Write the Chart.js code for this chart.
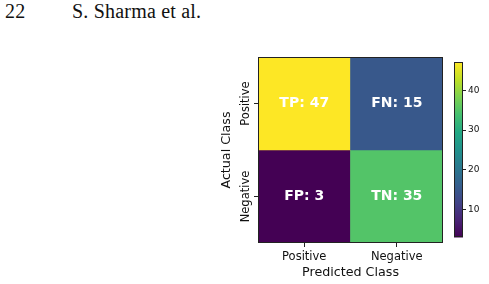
<!DOCTYPE html>
<html>
<head>
<meta charset="utf-8">
<script src="https://cdn.jsdelivr.net/npm/chart.js@4.4.1/dist/chart.umd.min.js"></script>
<style>
html, body { margin: 0; padding: 0; background: #fff; width: 489px; height: 284px; overflow: hidden; }
.hdr { position: absolute; top: 1px; font-family: "Liberation Serif", "DejaVu Serif", serif; font-size: 20px; line-height: 1; color: #111; white-space: nowrap; letter-spacing: 0.2px; }
#main { position: absolute; left: 215px; top: 50px; width: 235px; height: 234px; }
#cbar { position: absolute; left: 450px; top: 55px; width: 39px; height: 190px; }
</style>
</head>
<body>
<div class="hdr" style="left:5px">22</div>
<div class="hdr" style="left:72px">S. Sharma et al.</div>
<div id="main"><canvas id="cm"></canvas></div>
<div id="cbar"><canvas id="cb"></canvas></div>
<script>
// confusion matrix values
const xLabels = ['Positive', 'Negative'];      // predicted
const yLabels = ['Positive', 'Negative'];      // actual
const cellNames = [['TP', 'FN'], ['FP', 'TN']];
const counts = [[47, 15], [3, 35]];
const cbTicks = [10, 20, 30, 40];

const cbMin = Math.min(...counts.flat());
const cbMax = Math.max(...counts.flat());

const viridisStops = ['#440154', '#482475', '#414487', '#355f8d', '#2a788e',
    '#21918c', '#22a884', '#44bf70', '#7ad151', '#bddf26', '#fde725'];

function hexRgb(h) {
    return [parseInt(h.substr(1, 2), 16), parseInt(h.substr(3, 2), 16), parseInt(h.substr(5, 2), 16)];
}

function viridis(v) {
    let t = (v - cbMin) / (cbMax - cbMin);
    t = Math.max(0, Math.min(1, t)) * (viridisStops.length - 1);
    const i = Math.min(Math.floor(t), viridisStops.length - 2);
    const f = t - i;
    const a = hexRgb(viridisStops[i]), b = hexRgb(viridisStops[i + 1]);
    const c = a.map((x, k) => Math.round(x + (b[k] - x) * f));
    return 'rgb(' + c.join(',') + ')';
}

const frame = {
    id: 'frame',
    afterDraw(chart) {
        const {ctx, chartArea: a} = chart;
        ctx.save();
        ctx.strokeStyle = '#222';
        ctx.lineWidth = 1;
        ctx.strokeRect(Math.round(a.left) + 0.5, Math.round(a.top) + 0.5,
            Math.round(a.right - a.left) - 1, Math.round(a.bottom - a.top) - 1);
        ctx.restore();
    }
};

const cellText = {
    id: 'cellText',
    afterDatasetsDraw(chart) {
        const ctx = chart.ctx;
        ctx.save();
        ctx.fillStyle = '#fff';
        ctx.font = 'bold 14px "DejaVu Sans"';
        ctx.textAlign = 'center';
        ctx.textBaseline = 'middle';
        chart.data.datasets.forEach((ds, r) => {
            chart.getDatasetMeta(r).data.forEach((el, c) => {
                const p = el.getCenterPoint();
                ctx.fillText(cellNames[r][c] + ': ' + counts[r][c], p.x, p.y);
            });
        });
        ctx.restore();
    }
};

const tickFont = {family: 'DejaVu Sans', size: 11.5};
const titleFont = {family: 'DejaVu Sans', size: 12.7};

new Chart(document.getElementById('cm'), {
    type: 'bar',
    data: {
        labels: xLabels,
        datasets: yLabels.map((name, r) => ({
            label: name,
            data: xLabels.map(() => [r, r + 1]),
            backgroundColor: counts[r].map(viridis),
            borderWidth: 0,
            grouped: false,
            barPercentage: 1,
            categoryPercentage: 1
        }))
    },
    options: {
        responsive: true,
        maintainAspectRatio: false,
        animation: false,
        layout: {padding: {left: 0, right: 7, top: 7, bottom: 0}},
        plugins: {legend: {display: false}, tooltip: {enabled: false}},
        scales: {
            x: {
                grid: {drawOnChartArea: false, offset: false, tickLength: 4, color: '#222'},
                border: {display: false},
                ticks: {font: tickFont, color: '#111', padding: 3},
                title: {display: true, text: 'Predicted Class', font: titleFont, color: '#111', padding: {top: 0, bottom: 4}},
                afterFit(s) { s.height = 41; }
            },
            y: {
                type: 'linear',
                min: 0,
                max: 2,
                reverse: true,
                grid: {drawOnChartArea: false, tickLength: 4, color: '#222'},
                border: {display: false},
                ticks: {
                    font: tickFont, color: '#111',
                    minRotation: 90, maxRotation: 90,
                    crossAlign: 'center', padding: -18,
                    callback: (v, i) => yLabels[i]
                },
                afterBuildTicks(s) { s.ticks = yLabels.map((n, i) => ({value: i + 0.5})); },
                title: {display: true, text: 'Actual Class', font: titleFont, color: '#111', padding: {top: 4, bottom: 0}},
                afterFit(s) { s.width = 43; }
            }
        }
    },
    plugins: [cellText, frame]
});

new Chart(document.getElementById('cb'), {
    type: 'bar',
    data: {
        labels: [''],
        datasets: [{
            data: [[cbMin, cbMax]],
            backgroundColor(ctx) {
                const chart = ctx.chart;
                if (!chart.chartArea) return null;
                const y = chart.scales.y;
                const g = chart.ctx.createLinearGradient(0, y.getPixelForValue(cbMin), 0, y.getPixelForValue(cbMax));
                viridisStops.forEach((c, i) => g.addColorStop(i / (viridisStops.length - 1), c));
                return g;
            },
            borderWidth: 0,
            barPercentage: 1,
            categoryPercentage: 1
        }]
    },
    options: {
        responsive: true,
        maintainAspectRatio: false,
        animation: false,
        layout: {padding: {left: 4, right: 0, top: 7, bottom: 6}},
        plugins: {legend: {display: false}, tooltip: {enabled: false}},
        scales: {
            x: {display: false},
            y: {
                type: 'linear',
                position: 'right',
                min: cbMin,
                max: cbMax,
                grid: {drawOnChartArea: false, tickLength: 3, color: '#222'},
                border: {display: false},
                ticks: {font: {family: 'DejaVu Sans', size: 9}, color: '#111', padding: 2},
                afterBuildTicks(s) { s.ticks = cbTicks.map(v => ({value: v})); },
                afterFit(s) { s.width = 26; }
            }
        }
    },
    plugins: [frame]
});
</script>
</body>
</html>
